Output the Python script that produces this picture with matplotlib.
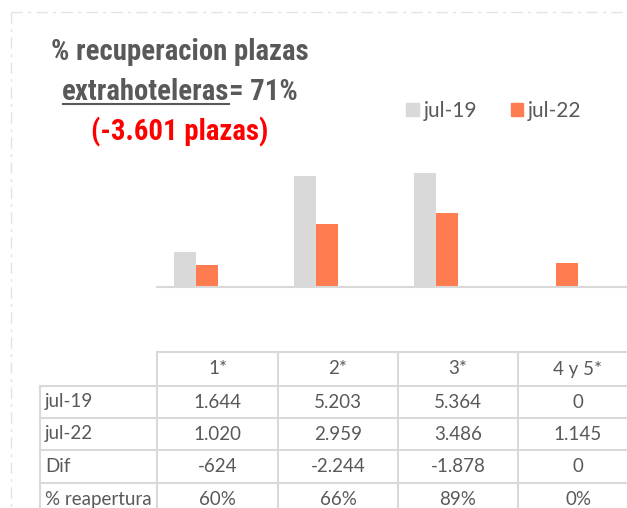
import matplotlib
matplotlib.use('Agg')
import matplotlib.pyplot as plt
from matplotlib import font_manager
from matplotlib.lines import Line2D
from matplotlib.patches import Patch
import numpy as np

# datos
categorias = ['1*', '2*', '3*', '4 y 5*']
series = ['jul-19', 'jul-22']
plazas_jul19 = [1644, 5203, 5364, 0]
plazas_jul22 = [1020, 2959, 3486, 1145]
diferencia = [-624, -2244, -1878, 0]
reapertura = ['60%', '66%', '89%', '0%']
filas = ['jul-19', 'jul-22', 'Dif', '% reapertura']

titulo1 = '% recuperacion plazas'
titulo2a = 'extrahoteleras'
titulo2b = '= 71%'
titulo3 = '(-3.601 plazas)'

GRIS = '#d9d9d9'
NARANJA = '#ff7c50'
TEXTO = '#595959'

W, H = 627, 508


def fmt(n):
    return '{:,}'.format(n).replace(',', '.')


def fx(px):
    return px / W


def fy(py):
    return 1 - py / H


nombres = {f.name for f in font_manager.fontManager.ttflist}
fuente_titulo = dict(family='DejaVu Sans', stretch='condensed', size=16.3)
for cand, tam in [('Liberation Sans Narrow', 21.8), ('Roboto Condensed', 20.7),
                  ('Open Sans Condensed', 20.7)]:
    if cand in nombres:
        fuente_titulo = dict(family=cand, size=tam)
        break
fuente_tabla = 'Lato' if 'Lato' in nombres else 'DejaVu Sans'

fig = plt.figure(figsize=(W / 100, H / 100), dpi=100)

# grafico de barras
ax = fig.add_axes([fx(157), fy(287), (W - 157) / W, (287 - 150) / H])
x = np.arange(len(categorias))
ancho = 0.183
ax.bar(x - ancho / 2, plazas_jul19, ancho, color=GRIS)
ax.bar(x + ancho / 2, plazas_jul22, ancho, color=NARANJA)
ax.set_xlim(-0.325, 3.592)
ax.set_ylim(0, 6450)
ax.set_xticks([])
ax.set_yticks([])
for s in ['top', 'left', 'right']:
    ax.spines[s].set_visible(False)
ax.spines['bottom'].set_color(GRIS)
ax.spines['bottom'].set_linewidth(1.5)

# leyenda
handles = [Patch(color=GRIS), Patch(color=NARANJA)]
fig.legend(handles, series, loc='center left', bbox_to_anchor=(fx(406), fy(111)),
           ncol=2, frameon=False, handlelength=0.6, handleheight=0.6,
           handletextpad=0.25, columnspacing=1.6, borderpad=0, borderaxespad=0,
           prop={'family': fuente_tabla, 'size': 15}, labelcolor=TEXTO)

# titulo
fig.text(fx(180), fy(60), titulo1, ha='center', va='baseline', color=TEXTO,
         weight='bold', **fuente_titulo)
renderer = fig.canvas.get_renderer()
ta = fig.text(0, fy(100), titulo2a, ha='left', va='baseline', color=TEXTO,
              weight='bold', **fuente_titulo)
tb = fig.text(0, fy(100), titulo2b, ha='left', va='baseline', color=TEXTO,
              weight='bold', **fuente_titulo)
wa = ta.get_window_extent(renderer).width
wb = tb.get_window_extent(renderer).width
x0 = 180 - (wa + wb) / 2
ta.set_x(fx(x0))
tb.set_x(fx(x0 + wa))
fig.add_artist(Line2D([fx(x0 + 1), fx(x0 + wa)], [fy(104), fy(104)],
                      color=TEXTO, lw=1.5))
fig.text(fx(180), fy(140), titulo3, ha='center', va='baseline', color='#ff0000',
         weight='bold', **fuente_titulo)

# tabla
cols = [40, 157, 278, 398, 518, 638]
rows = [352, 386, 418, 450, 483, 516]


def linea(xs, ys):
    fig.add_artist(Line2D([fx(v) for v in xs], [fy(v) for v in ys],
                          color=GRIS, lw=1.5))


linea([157, W], [rows[0], rows[0]])
for r in rows[1:]:
    linea([40, W], [r, r])
linea([40, 40], [rows[1], H])
for c in cols[1:-1]:
    linea([c, c], [rows[0], H])

valores = [[fmt(v) for v in plazas_jul19],
           [fmt(v) for v in plazas_jul22],
           [fmt(v) for v in diferencia],
           reapertura]

tam = 13.5
for j, cat in enumerate(categorias):
    cx = (cols[j + 1] + cols[j + 2]) / 2
    fig.text(fx(cx), fy((rows[0] + rows[1]) / 2), cat, ha='center', va='center',
             color=TEXTO, family=fuente_tabla, size=tam)
for i, nombre in enumerate(filas):
    cy = (rows[i + 1] + rows[i + 2]) / 2
    fig.text(fx(45), fy(cy), nombre, ha='left', va='center',
             color=TEXTO, family=fuente_tabla, size=tam)
    for j in range(len(categorias)):
        cx = (cols[j + 1] + cols[j + 2]) / 2
        fig.text(fx(cx), fy(cy), valores[i][j], ha='center', va='center',
                 color=TEXTO, family=fuente_tabla, size=tam)

# borde discontinuo
borde = dict(color='#e3e3e3', lw=1, dashes=(8, 4, 2, 4))
fig.add_artist(Line2D([fx(11), fx(11)], [fy(12), fy(H)], **borde))
fig.add_artist(Line2D([fx(11), fx(W)], [fy(12), fy(12)], **borde))

fig.savefig('out.png', dpi=100)
plt.close()
